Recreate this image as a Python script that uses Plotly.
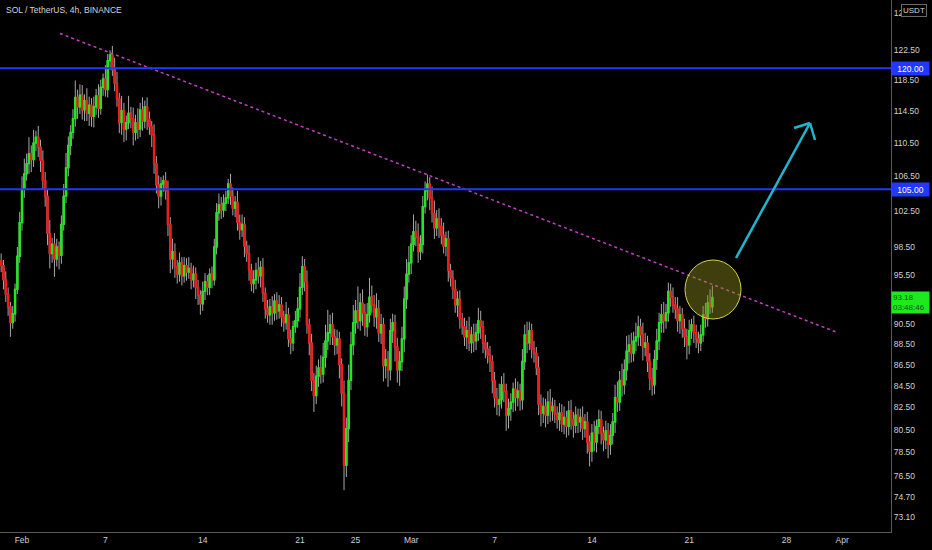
import math
import pandas as pd
import plotly.graph_objects as go

# ---------------- data ----------------
first_open = 97.0
closes = [
    96.5, 95.0, 93.5, 92.2, 90.6, 91.5, 94.0, 97.5, 101.2, 105.0,
    106.8, 108.0, 109.2, 108.5, 110.5, 111.2, 110.0, 108.4, 106.0, 104.2,
    100.0, 97.8, 98.8, 97.2, 98.5, 97.6, 101.0, 104.2, 107.5, 110.2,
    111.8, 113.5, 116.2, 115.0, 116.5, 114.6, 115.8, 114.2, 115.2, 113.8,
    115.0, 116.4, 114.8, 117.5, 118.6, 117.2, 121.0, 121.8, 119.8, 118.0,
    116.0, 113.0, 114.5, 112.2, 113.0, 114.2, 113.5, 111.8, 113.0, 112.2,
    114.6, 113.2, 115.0, 113.4, 112.5, 111.5, 108.0, 105.5, 104.2, 105.6,
    106.0, 104.8, 101.0, 97.2, 98.0, 96.4, 95.6, 96.8, 95.4, 96.5,
    95.8, 96.2, 95.0, 95.6, 94.2, 93.4, 92.5, 93.8, 94.8, 94.2,
    95.6, 95.0, 98.5, 102.3, 103.2, 102.6, 103.4, 104.0, 105.6, 104.2,
    102.8, 103.5, 101.2, 100.4, 101.0, 98.6, 97.8, 96.0, 94.6, 95.0,
    96.0, 95.4, 96.3, 93.6, 92.0, 91.4, 92.2, 91.6, 92.8, 91.8,
    92.4, 91.2, 90.6, 91.4, 89.0, 88.6, 90.2, 90.8, 92.0, 94.2,
    96.4, 94.8, 90.4, 88.6, 85.0, 83.6, 85.4, 86.2, 85.6, 87.2,
    88.8, 89.6, 90.4, 89.2, 88.4, 89.0, 86.5, 83.8, 77.4, 80.6,
    85.0, 88.4, 90.6, 91.8, 90.8, 92.6, 91.6, 90.2, 91.4, 93.2,
    92.4, 91.2, 92.0, 89.6, 90.4, 86.4, 87.0, 86.0, 89.8, 90.6,
    88.2, 86.0, 86.8, 89.0, 93.0, 95.6, 96.8, 98.8, 100.2, 99.6,
    98.0, 98.8, 103.0, 104.8, 105.6, 104.0, 102.2, 100.6, 101.6, 100.8,
    99.8, 98.6, 99.4, 96.0, 95.2, 94.0, 92.4, 93.0, 91.0, 90.2,
    89.2, 89.8, 88.6, 89.4, 88.8, 89.6, 90.8, 90.2, 88.6, 88.0,
    87.4, 86.8, 85.0, 83.4, 82.8, 83.2, 84.6, 84.0, 81.8, 82.4,
    83.0, 84.2, 83.4, 84.0, 83.2, 86.8, 89.4, 88.6, 89.8, 88.0,
    87.6, 86.2, 82.8, 82.0, 82.6, 81.8, 83.0, 82.2, 82.6, 81.9,
    81.4, 82.0, 81.0, 81.6, 80.8, 82.2, 81.4, 80.9, 81.8, 81.2,
    81.6, 80.6, 81.2, 79.4, 78.6, 80.2, 79.4, 80.8, 81.4, 80.2,
    79.6, 80.4, 79.2, 80.0, 81.2, 83.4, 83.0, 85.0, 84.6, 86.0,
    87.8, 88.4, 87.6, 88.8, 89.2, 90.2, 89.4, 88.2, 88.6, 86.8,
    85.2, 84.6, 87.0, 88.8, 90.6, 91.4, 90.8, 91.6, 93.8, 93.2,
    92.4, 92.0, 90.8, 91.4, 90.0, 89.2, 88.4, 89.8, 90.4, 89.6,
    89.0, 88.6, 89.4, 91.4, 91.0, 92.6, 92.2, 93.18,
]
upper_wick = [
    0.8, 0.6, 0.9, 0.7, 0.5, 0.8, 0.6, 1.0, 1.2, 1.5,
    1.8, 1.2, 2.0, 1.0, 1.6, 0.8, 1.4, 0.9, 1.2, 1.0,
    0.8, 1.5, 0.7, 1.2, 0.9, 0.6, 1.0, 1.4, 1.8, 1.1,
    0.9, 1.2, 2.2, 1.0, 1.4, 1.3, 0.8, 1.6, 1.1, 0.9,
    1.3, 0.9, 1.5, 1.0, 0.7, 1.8, 0.9, 0.6, 1.2, 1.6,
    1.5, 0.8, 1.9, 1.0, 0.9, 2.2, 0.8, 1.4, 1.0, 1.8,
    0.9, 1.6, 0.8, 1.2, 1.0, 0.7, 1.3, 0.9, 1.1, 0.8,
    0.6, 1.0, 1.2, 0.8, 1.4, 0.9, 0.7, 1.1, 0.6, 0.9,
    0.8, 1.2, 0.6, 0.9, 0.7, 0.8, 0.5, 1.0, 0.9, 0.7,
    0.6, 0.8, 0.9, 1.1, 1.3, 0.9, 1.0, 0.8, 0.6, 1.2,
    1.0, 0.7, 1.3, 0.9, 1.1, 0.8, 0.6, 0.9, 0.7, 1.0,
    0.8, 1.4, 0.7, 1.0, 0.6, 0.9, 0.8, 1.1, 0.7, 0.9,
    1.0, 0.8, 0.6, 1.3, 0.7, 0.9, 0.6, 1.0, 1.2, 1.5,
    1.1, 0.8, 1.2, 0.6, 0.9, 0.7, 1.0, 0.8, 1.2, 1.4,
    1.6, 2.3, 1.0, 1.2, 0.8, 0.9, 0.7, 0.6, 1.2, 1.0,
    1.5, 1.3, 1.8, 1.1, 2.5, 1.0, 1.4, 0.9, 1.2, 2.0,
    1.2, 1.0, 1.6, 0.9, 1.1, 0.7, 1.0, 0.8, 1.2, 0.9,
    0.8, 0.9, 1.0, 1.2, 1.3, 1.6, 1.8, 1.0, 1.9, 1.2,
    1.5, 1.0, 1.2, 1.1, 1.1, 0.8, 1.3, 1.5, 1.0, 1.2,
    0.9, 1.4, 0.8, 0.9, 0.7, 0.8, 1.0, 0.8, 0.9, 0.6,
    0.9, 1.0, 1.4, 0.8, 1.1, 0.9, 1.3, 1.0, 0.6, 0.8,
    0.7, 0.9, 0.6, 0.8, 0.9, 1.5, 0.8, 1.1, 0.7, 0.9,
    0.8, 0.6, 1.0, 0.9, 0.7, 1.2, 1.0, 1.3, 0.9, 0.7,
    0.8, 0.6, 1.1, 0.9, 0.8, 0.7, 1.0, 1.2, 0.8, 0.6,
    0.7, 0.9, 0.8, 1.0, 0.6, 0.9, 1.0, 0.7, 0.8, 0.6,
    0.8, 1.0, 0.7, 0.9, 0.6, 0.8, 1.1, 0.6, 0.9, 0.8,
    0.6, 0.9, 0.7, 1.0, 0.8, 1.2, 1.5, 0.9, 1.6, 1.0,
    1.5, 1.0, 1.2, 0.9, 1.4, 1.1, 0.8, 1.2, 1.0, 0.7,
    0.8, 1.0, 0.9, 1.2, 1.0, 1.1, 1.3, 0.9, 0.9, 0.8,
    1.0, 0.8, 1.2, 0.9, 0.7, 1.0, 0.8, 1.1, 0.6, 0.9,
    0.8, 0.7, 1.0, 0.9, 1.2, 0.8, 1.4, 1.2,
]
lower_wick = [
    0.7, 1.0, 0.8, 0.9, 1.4, 0.6, 0.8, 0.5, 0.7, 0.9,
    1.0, 0.8, 1.2, 1.5, 0.9, 1.0, 1.2, 1.4, 1.0, 1.2,
    1.3, 1.6, 1.0, 1.9, 0.8, 1.5, 0.9, 0.7, 0.8, 1.0,
    1.2, 0.8, 1.0, 1.5, 0.9, 1.2, 1.4, 1.0, 1.6, 1.3,
    1.4, 1.0, 1.2, 0.8, 1.1, 0.9, 1.0, 1.2, 0.8, 1.0,
    1.0, 1.3, 1.5, 1.6, 1.4, 0.8, 1.2, 1.6, 1.0, 1.2,
    1.0, 1.2, 0.9, 1.3, 1.0, 1.5, 1.2, 1.0, 1.4, 1.1,
    0.9, 1.0, 1.3, 1.5, 1.1, 1.2, 1.0, 0.8, 1.0, 0.7,
    0.9, 0.7, 1.0, 0.8, 1.2, 1.0, 1.1, 0.7, 0.9, 0.8,
    0.8, 0.9, 0.6, 0.8, 0.9, 1.0, 0.8, 0.9, 0.7, 1.0,
    0.8, 1.0, 0.9, 1.1, 0.8, 1.2, 0.9, 1.1, 0.8, 1.0,
    1.0, 0.8, 1.2, 0.9, 1.0, 0.8, 1.0, 1.2, 0.8, 0.9,
    0.8, 1.0, 0.9, 0.7, 0.8, 1.1, 0.8, 0.6, 0.7, 0.9,
    0.8, 1.0, 0.9, 1.2, 1.0, 1.5, 0.8, 1.0, 0.9, 0.8,
    1.0, 0.9, 1.2, 0.8, 1.0, 0.9, 1.3, 1.2, 2.1, 1.0,
    1.2, 0.9, 1.0, 1.1, 0.8, 1.0, 1.3, 0.9, 1.0, 0.8,
    0.8, 1.0, 1.2, 0.9, 1.1, 1.5, 1.2, 1.6, 1.0, 1.2,
    1.4, 1.2, 1.5, 0.9, 1.3, 1.0, 0.9, 1.2, 0.8, 1.0,
    1.2, 0.9, 1.0, 0.8, 1.1, 1.4, 1.0, 1.2, 0.9, 1.3,
    1.0, 0.8, 1.1, 1.2, 0.9, 1.0, 0.8, 1.2, 1.0, 0.8,
    0.9, 1.2, 0.8, 1.0, 1.1, 0.9, 0.8, 1.2, 1.0, 0.9,
    0.8, 1.0, 1.2, 0.9, 1.0, 1.1, 0.8, 1.0, 1.4, 1.2,
    1.1, 0.9, 1.2, 0.8, 1.0, 0.9, 0.8, 1.0, 0.7, 0.9,
    0.9, 0.7, 1.0, 1.2, 0.9, 1.1, 0.8, 1.0, 0.9, 0.8,
    0.8, 1.0, 0.7, 0.9, 1.0, 0.8, 0.9, 1.1, 0.7, 1.0,
    0.9, 1.0, 0.8, 1.0, 1.3, 0.9, 0.8, 0.9, 0.7, 1.0,
    1.0, 0.8, 1.2, 0.9, 0.8, 1.0, 0.9, 0.8, 1.1, 0.9,
    1.0, 1.2, 0.9, 0.8, 1.0, 0.9, 1.1, 1.3, 0.9, 1.0,
    1.1, 1.0, 0.9, 1.0, 0.9, 1.0, 1.2, 0.8, 0.9, 1.0,
    0.8, 1.0, 1.1, 1.3, 0.9, 1.0, 1.4, 0.9, 0.8, 1.0,
    0.9, 1.0, 0.8, 0.7, 0.9, 0.8, 0.7, 0.6,
]
start_time = "2022-01-30 12:00"

levels = [120.0, 105.0]
last_price = 93.18
countdown = "03:48:46"
trend_times = ["2022-02-03 17:30", "2022-03-31 17:00"]
trend_prices = [124.7, 89.6]

ytick_vals = [127.5, 122.5, 118.5, 114.5, 110.5, 106.5, 102.5, 98.5, 95.5,
              90.5, 88.5, 86.5, 84.5, 82.5, 80.5, 78.5, 76.5, 74.7, 73.1]
xtick_dates = ["2022-02-01", "2022-02-07", "2022-02-14", "2022-02-21", "2022-02-25",
               "2022-03-01", "2022-03-07", "2022-03-14", "2022-03-21", "2022-03-28",
               "2022-04-01"]
xtick_text = ["Feb", "7", "14", "21", "25", "Mar", "7", "14", "21", "28", "Apr"]
title_text = "SOL / TetherUS, 4h, BINANCE"

# ---------------- derived OHLC ----------------
opens = [first_open] + closes[:-1]
highs = [max(o, c) + u for o, c, u in zip(opens, closes, upper_wick)]
lows = [min(o, c) - l for o, c, l in zip(opens, closes, lower_wick)]
times = pd.date_range(start_time, periods=len(closes), freq="4h")

GREEN = "#1ee81e"
RED = "#f01a1a"
WICK = "#a8a8a8"
BLUE = "#2038ff"
FONT = "Liberation Sans"

fig = go.Figure()

# wicks
fig.add_trace(go.Candlestick(
    x=times, open=opens, high=highs, low=lows, close=closes,
    increasing=dict(line=dict(color=WICK, width=1), fillcolor=WICK),
    decreasing=dict(line=dict(color=WICK, width=1), fillcolor=WICK),
    hoverinfo="skip", showlegend=False,
))
# bodies
body_hi = [max(o, c) for o, c in zip(opens, closes)]
body_lo = [min(o, c) for o, c in zip(opens, closes)]
fig.add_trace(go.Candlestick(
    x=times, open=opens, high=body_hi, low=body_lo, close=closes,
    increasing=dict(line=dict(color=GREEN, width=1.3), fillcolor=GREEN),
    decreasing=dict(line=dict(color=RED, width=1.3), fillcolor=RED),
    hoverinfo="skip", showlegend=False,
))

# dotted trend line
fig.add_trace(go.Scatter(
    x=trend_times, y=trend_prices, mode="lines",
    line=dict(color="#c23fc2", width=1.5, dash="dot"),
    hoverinfo="skip", showlegend=False,
))

# horizontal levels
for lv in levels:
    fig.add_shape(type="line", xref="paper", x0=0, x1=1, yref="y", y0=lv, y1=lv,
                  line=dict(color=BLUE, width=2))
    fig.add_annotation(xref="paper", x=1.0, xanchor="left", yref="y", y=math.log10(lv),
                       text=f"{lv:.2f}", showarrow=False, bgcolor=BLUE,
                       font=dict(color="white", size=8.5, family=FONT),
                       width=35, height=11, borderpad=1, align="center")

# plot area geometry (pixels) for decorations
W_PLOT, H_PLOT = 891.0, 532.0
def px(x):
    return x / W_PLOT
def py(y):
    return (H_PLOT - y) / H_PLOT

# highlight circle
fig.add_shape(type="circle", xref="paper", yref="paper",
              x0=px(685), x1=px(741), y0=py(319), y1=py(260),
              fillcolor="rgba(140,140,30,0.45)", line=dict(color="#d2d24e", width=1))

# arrow
ARROW = "#22b4cc"
fig.add_shape(type="line", xref="paper", yref="paper",
              x0=px(736), y0=py(258), x1=px(810), y1=py(123),
              line=dict(color=ARROW, width=2.5))
fig.add_shape(type="line", xref="paper", yref="paper",
              x0=px(810), y0=py(123), x1=px(794), y1=py(128),
              line=dict(color=ARROW, width=2.5))
fig.add_shape(type="line", xref="paper", yref="paper",
              x0=px(810), y0=py(123), x1=px(815), y1=py(140),
              line=dict(color=ARROW, width=2.5))

# last price label
fig.add_annotation(xref="paper", x=1.0, xanchor="left", yref="y", y=math.log10(last_price),
                   yanchor="top", yshift=6,
                   text=f"{last_price:.2f}<br>{countdown}", showarrow=False,
                   bgcolor="#1ee81e", font=dict(color="#0d520d", size=8, family=FONT),
                   width=35, borderpad=1, align="left")

# USDT box
fig.add_annotation(xref="paper", x=px(901), xanchor="left", yref="paper", y=py(4), yanchor="top",
                   text="USDT", showarrow=False, bgcolor="#000000", bordercolor="#6a6a6a",
                   borderwidth=1, borderpad=1, font=dict(color="#d8d8d8", size=8, family=FONT))

# title
fig.add_annotation(xref="paper", x=px(4), xanchor="left", yref="paper", y=py(3), yanchor="top",
                   text=title_text, showarrow=False,
                   font=dict(color="#d6d6d6", size=8.5, family=FONT))

ymin = math.log10(71.9)
ymax = math.log10(129.4)

fig.update_layout(
    width=932, height=550,
    margin=dict(l=0, r=41, t=0, b=18),
    paper_bgcolor="#000000", plot_bgcolor="#000000",
    showlegend=False,
    font=dict(family=FONT, color="#cfcfcf", size=8.5),
    xaxis=dict(
        type="date", range=["2022-01-30 10:00", "2022-04-04 12:26"],
        rangeslider=dict(visible=False),
        tickvals=xtick_dates, ticktext=xtick_text, ticks="",
        showgrid=False, zeroline=False, showline=True, linecolor="#5a5a5a", linewidth=1,
        tickfont=dict(size=8.5, color="#d0d0d0", family=FONT),
    ),
    yaxis=dict(
        type="log", side="right", range=[ymin, ymax],
        tickvals=ytick_vals, ticktext=[f"{v:.2f}" for v in ytick_vals], ticks="",
        showgrid=False, zeroline=False, showline=True, linecolor="#5a5a5a", linewidth=1,
        tickfont=dict(size=8.5, color="#d0d0d0", family=FONT),
    ),
)

fig.write_html(
    "out.html",
    config={"displayModeBar": False},
    post_script="document.body.style.margin='0px';document.body.style.background='#000';",
)
